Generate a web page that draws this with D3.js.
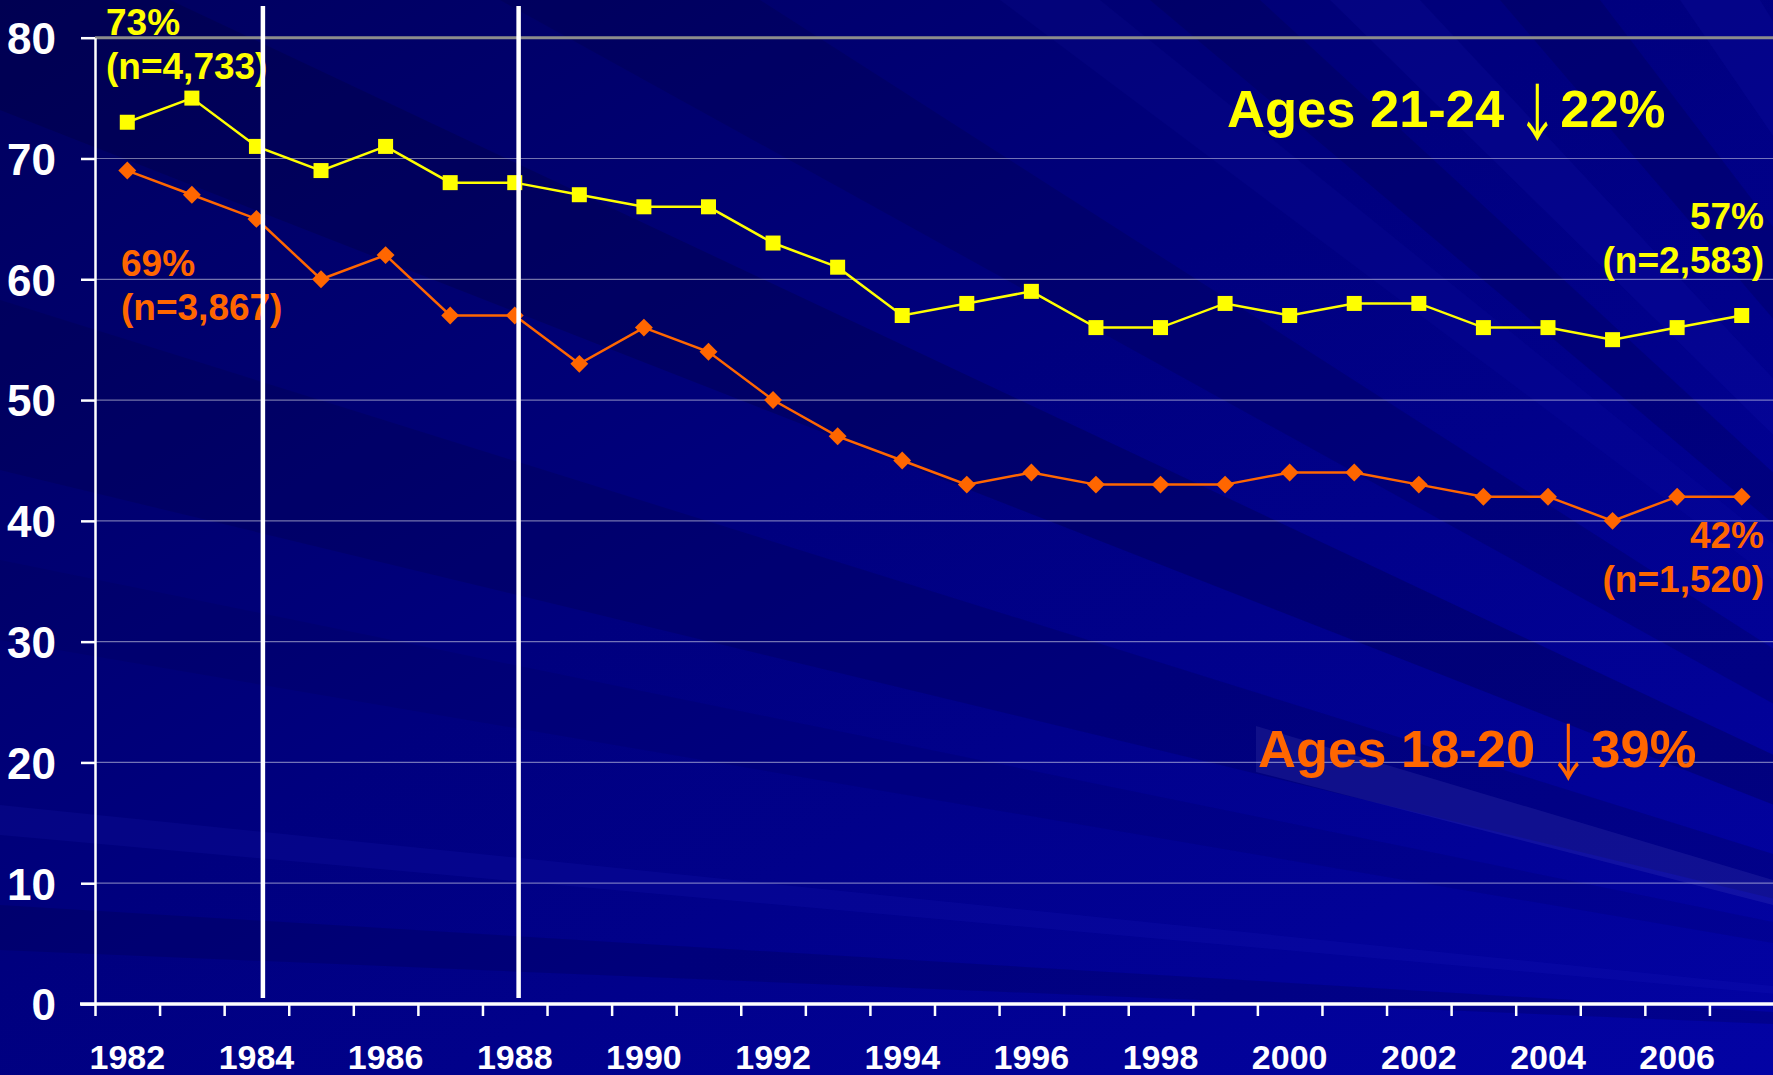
<!DOCTYPE html>
<html>
<head>
<meta charset="utf-8">
<script src="https://cdn.jsdelivr.net/npm/d3@7"></script>
<style>
  body { margin: 0; background: #000080; }
  svg { display: block; }
  text { font-family: "Liberation Sans", Arial, sans-serif; font-weight: bold; }
</style>
</head>
<body>
<script>
// data
var years = [1982, 1983, 1984, 1985, 1986, 1987, 1988, 1989, 1990, 1991, 1992, 1993, 1994,
             1995, 1996, 1997, 1998, 1999, 2000, 2001, 2002, 2003, 2004, 2005, 2006, 2007];
var ages2124 = [73, 75, 71, 69, 71, 68, 68, 67, 66, 66, 63, 61, 57,
                58, 59, 56, 56, 58, 57, 58, 58, 56, 56, 55, 56, 57];
var ages1820 = [69, 67, 65, 60, 62, 57, 57, 53, 56, 54, 50, 47, 45,
                43, 44, 43, 43, 43, 44, 44, 43, 42, 42, 40, 42, 42];
var yTicks = [0, 10, 20, 30, 40, 50, 60, 70, 80];
var xLabels = [1982, 1984, 1986, 1988, 1990, 1992, 1994, 1996, 1998, 2000, 2002, 2004, 2006];
var lawLines = [1984.6, 1988.56];   // the two white vertical markers

var W = 1773, H = 1075;
var yellow = "#ffff00", orange = "#ff6600";

var svg = d3.select("body").append("svg")
    .attr("width", W)
    .attr("height", H);

// ---- background: dark blue with rays ----
var defs = svg.append("defs");
var grad = defs.append("linearGradient").attr("id", "bg")
    .attr("x1", 0).attr("y1", 0).attr("x2", 1).attr("y2", 1);
grad.append("stop").attr("offset", 0).attr("stop-color", "#00005e");
grad.append("stop").attr("offset", 0.45).attr("stop-color", "#00007e");
grad.append("stop").attr("offset", 1).attr("stop-color", "#0303a4");
svg.append("rect").attr("width", W).attr("height", H).attr("fill", "url(#bg)");

var focal = [2400, 1050];
var rays = [
  [[0, -80], [0, 110], "#000030", 0.25],
  [[0, 300], [0, 470], "#000030", 0.18],
  [[0, 560], [0, 640], "#000030", 0.1],
  [[0, 805], [0, 835], "#2a2ad0", 0.12],
  [[0, 905], [0, 950], "#000030", 0.18],
  [[500, 0], [760, 0], "#000030", 0.18],
  [[1000, 0], [1100, 0], "#2a2ad0", 0.08],
  [[1150, 0], [1260, 0], "#000030", 0.18],
  [[1330, 0], [1420, 0], "#2a2ad0", 0.1],
  [[1500, 0], [1600, 0], "#000030", 0.18],
  [[1680, 0], [1760, 0], "#2a2ad0", 0.1]
];
function far(p) {
  return [focal[0] + (p[0] - focal[0]) * 3, focal[1] + (p[1] - focal[1]) * 3];
}
svg.append("g").selectAll("polygon")
    .data(rays)
    .enter()
    .append("polygon")
    .attr("points", function(d) {
      return [focal, far(d[0]), far(d[1])].map(function(p) { return p.join(","); }).join(" ");
    })
    .attr("fill", function(d) { return d[2]; })
    .attr("opacity", function(d) { return d[3]; });

// pale streak lower right
svg.append("polygon")
    .attr("points", "1256,726 1773,880 1773,905 1256,772")
    .attr("fill", "#8080e0")
    .attr("opacity", 0.12);

// ---- scales ----
var x = d3.scaleBand().domain(years).range([95, 1774]).padding(0);
var yearX = d3.scaleLinear().domain([1982, 2008]).range([95, 1774]);
var y = d3.scaleLinear().domain([0, 80]).range([1004, 37.7]);
function cx(i) { return x(years[i]) + x.bandwidth() / 2; }

// ---- gridlines ----
svg.append("g").selectAll("line")
    .data(yTicks.filter(function(d) { return d > 0 && d < 80; }))
    .enter()
    .append("line")
    .attr("x1", 95).attr("x2", W)
    .attr("y1", function(d) { return y(d); })
    .attr("y2", function(d) { return y(d); })
    .attr("stroke", "#ffffff")
    .attr("stroke-opacity", 0.45)
    .attr("stroke-width", 1.2);

svg.append("line")
    .attr("x1", 95).attr("x2", W)
    .attr("y1", y(80)).attr("y2", y(80))
    .attr("stroke", "#8c8c8c")
    .attr("stroke-width", 3);

// ---- axes ----
var yAxis = svg.append("g")
    .attr("transform", "translate(95,0)")
    .call(d3.axisLeft(y).tickValues(yTicks).tickSize(14).tickSizeOuter(0).tickPadding(25));
yAxis.select(".domain").attr("stroke", "#fff").attr("stroke-width", 2.5);
yAxis.selectAll(".tick line").attr("stroke", "#fff").attr("stroke-width", 2.5);
yAxis.selectAll("text")
    .attr("fill", "#fff")
    .attr("font-size", 44)
    .attr("dy", "0.36em");

var xTicks = svg.append("g")
    .attr("transform", "translate(0,1004)")
    .call(d3.axisBottom(yearX).tickValues(years.concat([2008])).tickFormat("").tickSize(12).tickSizeOuter(0));
xTicks.select(".domain").remove();
xTicks.selectAll(".tick line").attr("stroke", "#fff").attr("stroke-width", 2.5);

svg.append("line")
    .attr("x1", 80).attr("x2", W)
    .attr("y1", 1004).attr("y2", 1004)
    .attr("stroke", "#fff")
    .attr("stroke-width", 3.5);

var xAxis = svg.append("g")
    .attr("transform", "translate(0,1004)")
    .call(d3.axisBottom(x).tickValues(xLabels).tickSize(0));
xAxis.select(".domain").remove();
xAxis.selectAll("text")
    .attr("fill", "#fff")
    .attr("font-size", 34)
    .attr("y", 65)
    .attr("dy", null);

// ---- series ----
var line = d3.line()
    .x(function(d, i) { return cx(i); })
    .y(function(d) { return y(d); });

svg.append("path")
    .datum(ages1820)
    .attr("d", line)
    .attr("fill", "none")
    .attr("stroke", orange)
    .attr("stroke-width", 2.5);

svg.append("path")
    .datum(ages2124)
    .attr("d", line)
    .attr("fill", "none")
    .attr("stroke", yellow)
    .attr("stroke-width", 2.5);

svg.append("g").selectAll("path")
    .data(ages1820)
    .enter()
    .append("path")
    .attr("d", d3.symbol().type(d3.symbolSquare).size(160))
    .attr("transform", function(d, i) { return "translate(" + cx(i) + "," + y(d) + ") rotate(45)"; })
    .attr("fill", orange);

svg.append("g").selectAll("rect")
    .data(ages2124)
    .enter()
    .append("rect")
    .attr("x", function(d, i) { return cx(i) - 7.5; })
    .attr("y", function(d) { return y(d) - 7.5; })
    .attr("width", 15)
    .attr("height", 15)
    .attr("fill", yellow);

// ---- annotations ----
function note(lines, x0, y0, anchor, color) {
  var t = svg.append("text")
      .attr("text-anchor", anchor)
      .attr("font-size", 37)
      .attr("fill", color);
  lines.forEach(function(s, k) {
    t.append("tspan").attr("x", x0).attr("y", y0 + k * 44).text(s);
  });
}
note(["73%", "(n=4,733)"], 106, 35, "start", yellow);
note(["69%", "(n=3,867)"], 121, 276, "start", orange);
note(["57%", "(n=2,583)"], 1764, 229, "end", yellow);
note(["42%", "(n=1,520)"], 1764, 548, "end", orange);

function heading(label, pct, x0, y0, color) {
  var g = svg.append("g").attr("fill", color);
  var t = g.append("text")
      .attr("x", x0).attr("y", y0)
      .attr("font-size", 52.5)
      .text(label);
  var ax = x0 + t.node().getComputedTextLength() + 33;
  g.append("text")
      .attr("transform", "translate(" + ax + "," + (y0 + 9) + ") scale(0.72,1)")
      .attr("text-anchor", "middle")
      .style("font-family", "'Noto Sans CJK JP', 'DejaVu Sans', sans-serif")
      .style("font-weight", "normal")
      .attr("font-size", 62)
      .text("\u2193");
  g.append("text")
      .attr("x", ax + 23).attr("y", y0)
      .attr("font-size", 52.5)
      .text(pct);
}
heading("Ages 21-24", "22%", 1227, 127, yellow);
heading("Ages 18-20", "39%", 1258, 767, orange);

// ---- white vertical markers on top ----
svg.append("g").selectAll("line")
    .data(lawLines)
    .enter()
    .append("line")
    .attr("x1", function(d) { return yearX(d); })
    .attr("x2", function(d) { return yearX(d); })
    .attr("y1", 6)
    .attr("y2", 998)
    .attr("stroke", "#ffffff")
    .attr("stroke-width", 4.5);
</script>
</body>
</html>
